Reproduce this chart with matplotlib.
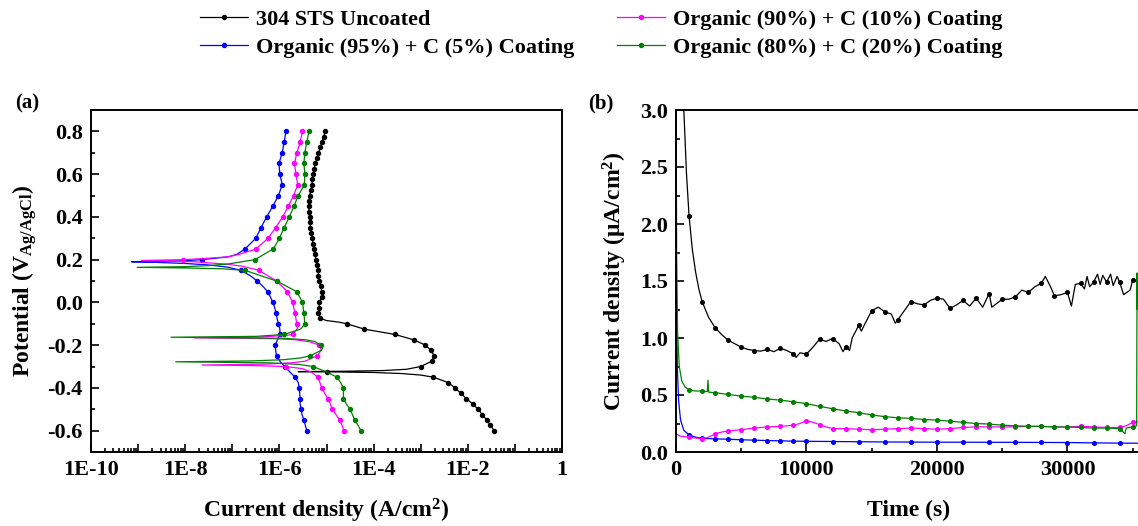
import numpy as np
import matplotlib
matplotlib.use("Agg")
import matplotlib.pyplot as plt
from matplotlib.ticker import FixedLocator, FuncFormatter, LogLocator, MultipleLocator, NullFormatter

plt.rcParams['font.family'] = ['Liberation Serif', 'DejaVu Serif']
plt.rcParams['font.weight'] = 'bold'
plt.rcParams['mathtext.fontset'] = 'custom'
plt.rcParams['mathtext.rm'] = 'Liberation Serif:bold'
plt.rcParams['mathtext.bf'] = 'Liberation Serif:bold'
plt.rcParams['mathtext.it'] = 'Liberation Serif:bold'

labels = ["304 STS Uncoated", "Organic (95%) + C (5%) Coating",
          "Organic (90%) + C (10%) Coating", "Organic (80%) + C (20%) Coating"]
colors = ["black", "#0000ff", "#ff00ff", "#008000"]

# ---------------- (a) potentiodynamic polarization: potential (V) and log10 current density (A/cm2)
uncoated_E = [-0.60, -0.575, -0.55, -0.525, -0.50, -0.475, -0.45, -0.425, -0.40, -0.375, -0.35, -0.34, -0.333,
              -0.328, -0.325, -0.324, -0.322, -0.319, -0.313, -0.30, -0.275, -0.25, -0.225, -0.20, -0.175, -0.15,
              -0.125, -0.10, -0.092, -0.085, -0.075, -0.05, -0.025, 0.0, 0.025, 0.05, 0.075, 0.10, 0.125, 0.15,
              0.175, 0.20, 0.225, 0.25, 0.275, 0.30, 0.325, 0.35, 0.375, 0.40, 0.425, 0.45, 0.475, 0.50, 0.525,
              0.55, 0.575, 0.60, 0.625, 0.65, 0.675, 0.70, 0.725, 0.75, 0.775, 0.80]
uncoated_logI = [-1.44, -1.52, -1.60, -1.69, -1.78, -1.90, -2.03, -2.15, -2.27, -2.42, -2.73, -3.0, -3.4,
                 -4.0, -5.0, -5.6, -4.6, -3.8, -3.3, -3.00, -2.76, -2.71, -2.78, -2.90, -3.15, -3.55,
                 -4.2, -4.57, -4.75, -5.0, -5.13, -5.17, -5.16, -5.15, -5.10, -5.10, -5.12, -5.16, -5.17, -5.17,
                 -5.20, -5.22, -5.25, -5.27, -5.29, -5.30, -5.32, -5.34, -5.35, -5.36, -5.37, -5.38, -5.37, -5.36,
                 -5.33, -5.31, -5.30, -5.28, -5.26, -5.24, -5.20, -5.17, -5.13, -5.10, -5.06, -5.03]

c5_E = [-0.60, -0.575, -0.55, -0.525, -0.50, -0.475, -0.45, -0.425, -0.40, -0.375, -0.35, -0.325, -0.30, -0.275,
        -0.25, -0.225, -0.20, -0.175, -0.15, -0.125, -0.10, -0.075, -0.05, -0.025, 0.0, 0.025, 0.05, 0.075, 0.10,
        0.125, 0.15, 0.165, 0.175, 0.182, 0.187, 0.19, 0.192, 0.195, 0.20, 0.213, 0.225, 0.25, 0.30, 0.35, 0.40,
        0.45, 0.50, 0.55, 0.60, 0.65, 0.70, 0.75, 0.80]
c5_logI = [-5.42, -5.45, -5.48, -5.52, -5.54, -5.56, -5.56, -5.57, -5.58, -5.60, -5.67, -5.78, -5.89, -5.99,
           -6.06, -6.08, -6.09, -6.04, -5.99, -5.99, -6.02, -6.05, -6.07, -6.10, -6.14, -6.19, -6.25, -6.35, -6.47,
           -6.62, -6.82, -7.1, -7.5, -8.0, -8.6, -9.14, -8.5, -8.0, -7.65, -7.08, -6.90, -6.73, -6.50, -6.39, -6.27,
           -6.14, -6.02, -5.94, -5.99, -6.01, -5.94, -5.90, -5.86]

c10_E = [-0.60, -0.575, -0.55, -0.525, -0.50, -0.475, -0.45, -0.425, -0.40, -0.375, -0.35, -0.325, -0.31, -0.30,
         -0.296, -0.293, -0.289, -0.283, -0.275, -0.25, -0.225, -0.20, -0.185, -0.175, -0.17, -0.166, -0.162,
         -0.155, -0.15, -0.125, -0.10, -0.05, 0.0, 0.05, 0.10, 0.15, 0.17, 0.18, 0.19, 0.196, 0.20, 0.205, 0.213,
         0.225, 0.25, 0.30, 0.35, 0.40, 0.45, 0.50, 0.55, 0.60, 0.65, 0.70, 0.75, 0.80]
c10_logI = [-4.63, -4.67, -4.72, -4.80, -4.88, -4.92, -4.97, -5.04, -5.10, -5.14, -5.18, -5.33, -5.52, -5.86,
            -6.5, -7.64, -6.3, -5.75, -5.45, -5.20, -5.11, -5.15, -5.35, -5.65, -6.1, -7.81, -6.4,
            -5.9, -5.72, -5.62, -5.63, -5.67, -5.72, -5.83, -6.06, -6.44, -6.8, -7.2, -7.8, -8.93, -8.04, -7.6, -7.1,
            -6.85, -6.50, -6.24, -6.08, -5.93, -5.81, -5.70, -5.61, -5.65, -5.68, -5.63, -5.56, -5.51]

c20_E = [-0.60, -0.575, -0.55, -0.525, -0.50, -0.475, -0.45, -0.425, -0.40, -0.375, -0.35, -0.325, -0.30, -0.29,
         -0.283, -0.278, -0.274, -0.268, -0.26, -0.25, -0.225, -0.214, -0.20, -0.183, -0.175, -0.168, -0.163,
         -0.159, -0.15, -0.125, -0.10, -0.05, 0.0, 0.05, 0.10, 0.125, 0.15, 0.157, 0.161, 0.164, 0.167, 0.172,
         0.18, 0.20, 0.25, 0.30, 0.35, 0.40, 0.45, 0.50, 0.55, 0.60, 0.65, 0.70, 0.75, 0.80]
c20_logI = [-4.27, -4.33, -4.40, -4.45, -4.50, -4.58, -4.64, -4.64, -4.64, -4.70, -4.78, -5.0, -5.29, -5.6,
            -6.2, -8.20, -6.6, -5.9, -5.55, -5.35, -5.12, -5.08, -5.12, -5.25, -5.45, -5.9, -8.30,
            -6.5, -5.90, -5.55, -5.46, -5.48, -5.51, -5.63, -6.06, -6.4, -6.73, -7.2, -8.0, -9.02, -8.0, -7.5,
            -7.08, -6.52, -6.13, -6.00, -5.90, -5.79, -5.69, -5.60, -5.47, -5.46, -5.48, -5.46, -5.42, -5.37]

# ---------------- (b) potentiostatic: time (s) and current density (uA/cm2)
uncoated_t = [0, 200, 400, 600, 800, 1000, 1250, 1500, 1750, 2000, 2500, 3000, 3500, 4000, 4500, 5000, 5500,
              6000, 6500, 7000, 7500, 8000, 8500, 9000, 9200, 9500, 10000, 10500, 11000, 11500, 12000, 12500,
              12800, 13000, 13300, 13500, 14000, 14200, 14500, 15000, 15500, 16000, 16500, 16800, 17000, 17500,
              18000, 18500, 19000, 19500, 20000, 20500, 21000, 21500, 22000, 22500, 23000, 23500, 24000, 24200,
              25000, 25500, 26000, 26500, 27000, 27500, 28000, 28300, 28700, 29000, 29500, 30000, 30300, 30600,
              31000, 31300, 31500, 31700, 32000, 32300, 32500, 32700, 33000, 33300, 33500, 33800, 34000, 34300,
              34800, 35000, 35400, 35700]
uncoated_j = [9.0, 5.0, 3.6, 3.0, 2.45, 2.07, 1.78, 1.58, 1.43, 1.32, 1.18, 1.09, 1.03, 0.98, 0.95, 0.92, 0.90,
              0.89, 0.885, 0.90, 0.88, 0.91, 0.89, 0.86, 0.83, 0.87, 0.86, 0.92, 0.99, 0.97, 0.995, 0.95,
              0.88, 0.92, 0.89, 1.0, 1.11, 1.06, 1.13, 1.24, 1.27, 1.23, 1.21, 1.13, 1.16, 1.24,
              1.32, 1.30, 1.29, 1.33, 1.35, 1.34, 1.26, 1.29, 1.33, 1.28, 1.35, 1.27, 1.39, 1.27,
              1.34, 1.34, 1.36, 1.42, 1.40, 1.45, 1.48, 1.54, 1.45, 1.37, 1.38, 1.40, 1.28, 1.47,
              1.48, 1.43, 1.54, 1.45, 1.49, 1.56, 1.47, 1.55, 1.49, 1.56, 1.46, 1.54, 1.49, 1.38,
              1.42, 1.51, 1.49, 1.50]

c5_t = [0, 40, 100, 200, 350, 600, 1000, 1500, 2000, 3000, 4000, 5000, 6000, 7000, 8000, 9000, 10000, 12000,
        14000, 16000, 18000, 20000, 22000, 24000, 26000, 28000, 30000, 32000, 34000, 35700]
c5_j = [1.8, 1.3, 0.75, 0.45, 0.28, 0.19, 0.15, 0.13, 0.12, 0.115, 0.112, 0.107, 0.104, 0.10, 0.098, 0.095,
        0.094, 0.092, 0.09, 0.088, 0.087, 0.086, 0.086, 0.085, 0.085, 0.084, 0.083, 0.08, 0.078, 0.077]

c10_t = [0, 300, 1000, 2000, 2500, 3000, 3500, 4000, 5000, 6000, 7000, 8000, 9000, 9500, 10000, 10500, 11000,
         11500, 12000, 13000, 14000, 15000, 16000, 17000, 18000, 19000, 20000, 21000, 22000, 23000, 24000, 25000,
         26000, 27000, 28000, 29000, 30000, 31000, 32000, 33000, 34000, 34500, 35000, 35700]
c10_j = [0.16, 0.14, 0.13, 0.115, 0.13, 0.16, 0.175, 0.185, 0.195, 0.21, 0.22, 0.225, 0.235, 0.25, 0.275, 0.26,
         0.24, 0.22, 0.205, 0.205, 0.20, 0.195, 0.20, 0.205, 0.21, 0.205, 0.20, 0.205, 0.215, 0.22, 0.22, 0.22,
         0.22, 0.225, 0.225, 0.22, 0.22, 0.225, 0.22, 0.215, 0.215, 0.23, 0.26, 0.27]

c20_t = [0, 50, 120, 250, 450, 700, 1000, 1500, 2000, 2400, 2450, 2500, 3000, 4000, 5000, 6000, 7000, 8000,
         9000, 10000, 11000, 12000, 13000, 14000, 15000, 16000, 17000, 18000, 19000, 20000, 21000, 22000, 23000,
         24000, 25000, 26000, 27000, 28000, 29000, 30000, 31000, 32000, 33000, 34000, 34400, 34500, 35000,
         35300, 35330, 35360, 35400, 35700]
c20_j = [3.2, 1.75, 1.05, 0.75, 0.62, 0.57, 0.545, 0.535, 0.535, 0.53, 0.63, 0.525, 0.52, 0.505, 0.49, 0.48,
         0.465, 0.455, 0.44, 0.425, 0.40, 0.38, 0.36, 0.345, 0.325, 0.31, 0.30, 0.295, 0.285, 0.28, 0.27, 0.26,
         0.25, 0.245, 0.235, 0.23, 0.225, 0.225, 0.22, 0.22, 0.215, 0.21, 0.21, 0.205, 0.16, 0.21, 0.22,
         0.23, 1.57, 1.25, 1.5, 1.5]

W, H = 1138, 526
fig = plt.figure(figsize=(W / 100, H / 100), dpi=100)
axA = fig.add_axes([91 / W, 74 / H, 471 / W, 342 / H])
axB = fig.add_axes([676 / W, 74 / H, 466 / W, 342 / H])

def marks(E, step):
    return [i for i, e in enumerate(E) if abs(e / step - round(e / step)) < 1e-6]

series_a = [(uncoated_E, uncoated_logI, 0.025), (c5_E, c5_logI, 0.05),
            (c10_E, c10_logI, 0.05), (c20_E, c20_logI, 0.05)]
handles = []
for (E, L, step), col, lab in zip(series_a, colors, labels):
    h, = axA.plot(10 ** np.array(L), E, color=col, lw=0.9, marker='o', ms=2.9,
                  markevery=marks(E, step), label=lab)
    handles.append(h)

axA.set_xscale('log')
axA.set_xlim(1e-10, 1)
axA.set_ylim(-0.7, 0.9)
axA.xaxis.set_major_locator(FixedLocator(10.0 ** np.arange(-10, 1)))
axA.xaxis.set_minor_locator(LogLocator(base=10, subs=np.arange(2, 10), numticks=100))
axA.xaxis.set_minor_formatter(NullFormatter())

def dec_fmt(v, pos):
    e = int(round(np.log10(v)))
    if e % 2:
        return ''
    return '1' if e == 0 else '1E%d' % e

axA.xaxis.set_major_formatter(FuncFormatter(dec_fmt))
axA.yaxis.set_major_locator(MultipleLocator(0.2))
axA.yaxis.set_minor_locator(MultipleLocator(0.1))
axA.yaxis.set_major_formatter(FuncFormatter(lambda v, p: '%.1f' % v))
axA.set_xlabel('Current density (A/cm$^{2}$)', fontsize=17, fontweight='bold', labelpad=12)
axA.set_ylabel('Potential (V$_{\\mathrm{Ag/AgCl}}$)', fontsize=17, fontweight='bold', labelpad=6)

series_b = [(uncoated_t, uncoated_j), (c5_t, c5_j), (c10_t, c10_j), (c20_t, c20_j)]
for (t, j), col in zip(series_b, colors):
    t = np.array(t)
    axB.plot(t, j, color=col, lw=0.9, marker='o', ms=2.6,
             markevery=[i for i, v in enumerate(t) if v >= 1000 and v % 1000 == 0])

axB.set_xlim(0, 35710)
axB.set_ylim(0, 3.0)
axB.xaxis.set_major_locator(MultipleLocator(10000))
axB.xaxis.set_minor_locator(MultipleLocator(5000))
axB.yaxis.set_major_locator(MultipleLocator(0.5))
axB.yaxis.set_minor_locator(MultipleLocator(0.25))
axB.yaxis.set_major_formatter(FuncFormatter(lambda v, p: '%.1f' % v))
axB.set_xlabel('Time (s)', fontsize=17, fontweight='bold', labelpad=14)
axB.set_ylabel('Current density (\u03bcA/cm$^{2}$)', fontsize=17, fontweight='bold', labelpad=8)

for ax in (axA, axB):
    for s in ax.spines.values():
        s.set_linewidth(1.4)
    ax.tick_params(which='both', direction='in', labelsize=16, width=1.2, pad=6)
    ax.tick_params(which='major', length=6)
    ax.tick_params(which='minor', length=3)
    for lab in ax.get_xticklabels() + ax.get_yticklabels():
        lab.set_fontweight('bold')

fig.text(15 / W, 1 - 103 / H, '(a)', fontsize=15, fontweight='bold', va='center')
fig.text(588 / W, 1 - 103 / H, '(b)', fontsize=15, fontweight='bold', va='center')

fig.legend(handles, labels, loc='upper left', bbox_to_anchor=(189 / W, 1 + 2 / H), ncol=2, frameon=False,
           borderpad=0, handlelength=2.15, handletextpad=0.36, columnspacing=1.92,
           labelspacing=0.35, prop={'weight': 'bold', 'size': 16})

fig.savefig('out.png', dpi=100)
